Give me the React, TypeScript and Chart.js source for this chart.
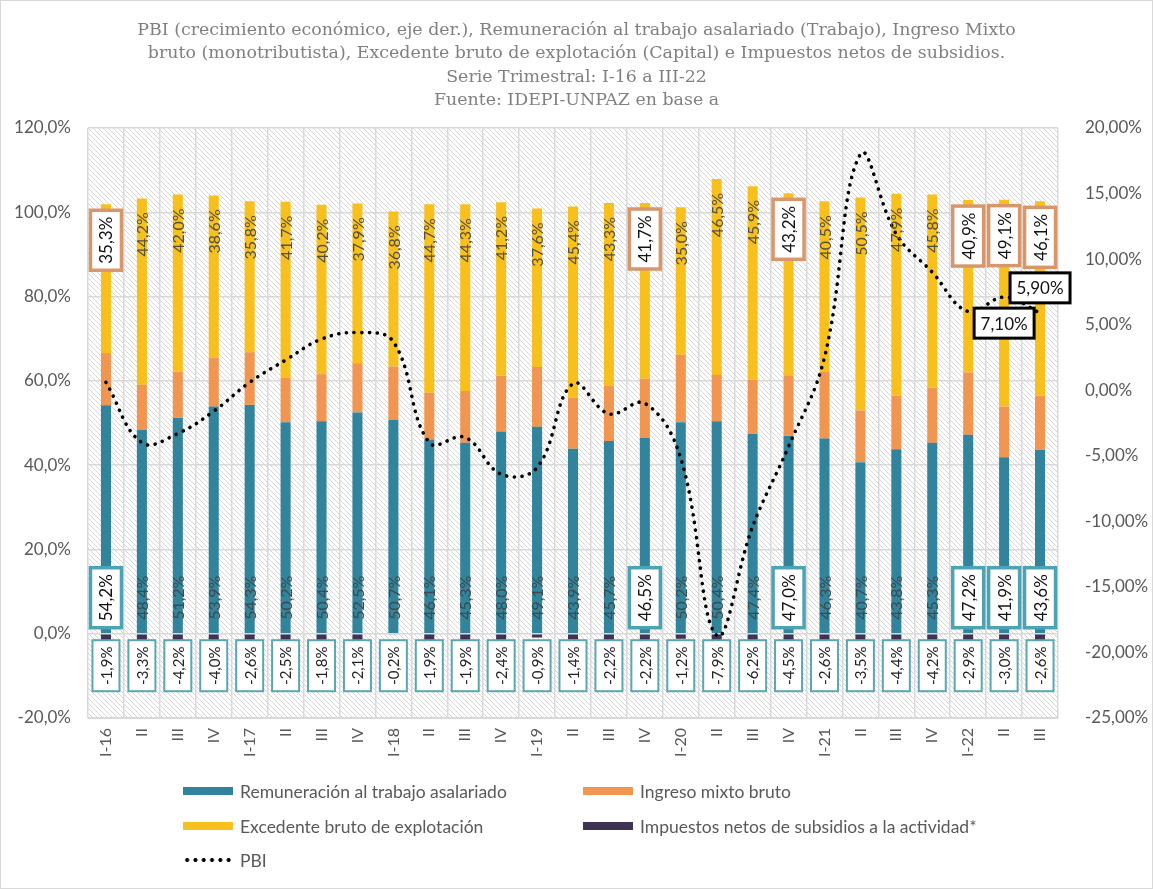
import { Chart, registerables } from "chart.js"
import { useEffect, useRef } from "react"

Chart.register(...registerables)

const titulo = [
    "PBI (crecimiento económico, eje der.), Remuneración al trabajo asalariado (Trabajo), Ingreso Mixto",
    "bruto (monotributista), Excedente bruto de explotación (Capital) e Impuestos netos de subsidios.",
    "Serie Trimestral: I-16 a III-22",
    "Fuente: IDEPI-UNPAZ en base a",
]

const trimestres = [
    "I-16", "II", "III", "IV",
    "I-17", "II", "III", "IV",
    "I-18", "II", "III", "IV",
    "I-19", "II", "III", "IV",
    "I-20", "II", "III", "IV",
    "I-21", "II", "III", "IV",
    "I-22", "II", "III",
]

const remuneracion = [54.2, 48.4, 51.2, 53.9, 54.3, 50.2, 50.4, 52.5, 50.7, 46.1, 45.3, 48.0, 49.1, 43.9, 45.7, 46.5, 50.2, 50.4, 47.4, 47.0, 46.3, 40.7, 43.8, 45.3, 47.2, 41.9, 43.6]
const ingresoMixto = [12.4, 10.7, 11.0, 11.5, 12.5, 10.6, 11.2, 11.7, 12.7, 11.1, 12.3, 13.2, 14.2, 12.1, 13.2, 14.0, 16.0, 11.0, 12.9, 14.3, 15.8, 12.3, 12.7, 13.1, 14.8, 12.0, 12.9]
const excedente = [35.3, 44.2, 42.0, 38.6, 35.8, 41.7, 40.2, 37.9, 36.8, 44.7, 44.3, 41.2, 37.6, 45.4, 43.3, 41.7, 35.0, 46.5, 45.9, 43.2, 40.5, 50.5, 47.9, 45.8, 40.9, 49.1, 46.1]
const impuestos = [-1.9, -3.3, -4.2, -4.0, -2.6, -2.5, -1.8, -2.1, -0.2, -1.9, -1.9, -2.4, -0.9, -1.4, -2.2, -2.2, -1.2, -7.9, -6.2, -4.5, -2.6, -3.5, -4.4, -4.2, -2.9, -3.0, -2.6]
const pbi = [0.6, -4.0, -3.3, -1.6, 0.6, 2.3, 3.9, 4.4, 3.7, -4.0, -3.6, -6.4, -5.9, 0.5, -1.8, -1.0, -5.2, -18.7, -10.4, -4.3, 2.5, 18.0, 11.9, 9.0, 6.0, 7.1, 5.9]

// trimestres con etiqueta en recuadro
const destacados = [0, 15, 19, 24, 25, 26]
const pbiConEtiqueta = [25, 26]

const AZUL = "#31849b"
const NARANJA = "#f09650"
const AMARILLO = "#f8c01c"
const VIOLETA = "#3f3353"

const pct = (v: number, d: number) => v.toFixed(d).replace(".", ",") + "%"

type Caja = { w: number, h: number, stroke: string, lw: number }

function textoVertical(ctx: CanvasRenderingContext2D, texto: string, x: number, y: number, font: string, color: string, caja?: Caja) {
    ctx.save()
    ctx.translate(x, y)
    ctx.rotate(-Math.PI / 2)
    if (caja) {
        ctx.fillStyle = "#fff"
        ctx.fillRect(-caja.w / 2, -caja.h / 2, caja.w, caja.h)
        ctx.strokeStyle = caja.stroke
        ctx.lineWidth = caja.lw
        ctx.strokeRect(-caja.w / 2, -caja.h / 2, caja.w, caja.h)
    }
    ctx.font = font
    ctx.fillStyle = color
    ctx.textAlign = "center"
    ctx.textBaseline = "middle"
    ctx.fillText(texto, 0, 1)
    ctx.restore()
}

const rayado = {
    id: "rayado",
    beforeDraw(chart: any) {
        const { ctx, chartArea: a } = chart
        const tile = document.createElement("canvas")
        tile.width = 5
        tile.height = 5
        const t = tile.getContext("2d")!
        t.strokeStyle = "#d6d6d6"
        t.lineWidth = 1
        t.beginPath()
        t.moveTo(-1, -1); t.lineTo(6, 6)
        t.moveTo(-1, 4); t.lineTo(1, 6)
        t.moveTo(4, -1); t.lineTo(6, 1)
        t.stroke()
        ctx.save()
        ctx.fillStyle = "#fff"
        ctx.fillRect(0, 0, chart.width, chart.height)
        ctx.fillStyle = ctx.createPattern(tile, "repeat")
        ctx.fillRect(a.left, a.top, a.right - a.left, a.bottom - a.top)
        ctx.strokeStyle = "#d9d9d9"
        ctx.lineWidth = 1
        ctx.strokeRect(0.5, 0.5, chart.width - 1, chart.height - 1)
        ctx.restore()
    },
}

const etiquetas = {
    id: "etiquetas",
    afterDatasetsDraw(chart: any) {
        const ctx = chart.ctx
        const cero = chart.scales.y.getPixelForValue(0)
        const rem = chart.getDatasetMeta(0).data
        const exc = chart.getDatasetMeta(2).data
        const pts = chart.getDatasetMeta(4).data
        trimestres.forEach((_, i) => {
            const x = rem[i].x
            const d = destacados.includes(i)
            textoVertical(ctx, pct(remuneracion[i], 1), x, cero - 36,
                d ? "17px Lato" : "16px Lato", d ? "#111" : "#3d4a4f",
                d ? { w: 60, h: 31, stroke: "#4ba3b3", lw: 3.5 } : undefined)
            textoVertical(ctx, pct(excedente[i], 1), x, exc[i].y + 36,
                d ? "17px Lato" : "16px Lato", d ? "#111" : "#55503c",
                d ? { w: 60, h: 31, stroke: "#d8966b", lw: 3.5 } : undefined)
            textoVertical(ctx, pct(impuestos[i], 1), x, cero + 32, "15px Lato", "#222",
                { w: 51, h: 27, stroke: "#5aa7b2", lw: 2 })
        })
        pbiConEtiqueta.forEach((i, k) => {
            const p = pts[i]
            const y = k === 0 ? p.y + 26 : p.y - 25
            ctx.save()
            ctx.fillStyle = "#fff"
            ctx.fillRect(p.x - 30, y - 15, 60, 30)
            ctx.strokeStyle = "#000"
            ctx.lineWidth = 3
            ctx.strokeRect(p.x - 30, y - 15, 60, 30)
            ctx.font = "17px Lato"
            ctx.fillStyle = "#111"
            ctx.textAlign = "center"
            ctx.textBaseline = "middle"
            ctx.fillText(pct(pbi[i], 2), p.x, y + 1)
            ctx.restore()
        })
    },
}

const leyenda = [
    { label: "Remuneración al trabajo asalariado", color: AZUL, x: 183, y: 791 },
    { label: "Ingreso mixto bruto", color: NARANJA, x: 583, y: 791 },
    { label: "Excedente bruto de explotación", color: AMARILLO, x: 183, y: 826 },
    { label: "Impuestos netos de subsidios a la actividad*", color: VIOLETA, x: 583, y: 826 },
    { label: "PBI", color: "", x: 183, y: 860 },
]

const App = () => {
    const canvasRef = useRef<HTMLCanvasElement>(null)

    useEffect(() => {
        if (!canvasRef.current) return
        const barra = { type: "bar" as const, barPercentage: 0.28, categoryPercentage: 1, yAxisID: "y", stack: "s", borderWidth: 0 }
        const chart = new Chart(canvasRef.current, {
            type: "bar",
            data: {
                labels: trimestres,
                datasets: [
                    { ...barra, label: "Remuneración al trabajo asalariado", data: remuneracion, backgroundColor: AZUL, order: 2 },
                    { ...barra, label: "Ingreso mixto bruto", data: ingresoMixto, backgroundColor: NARANJA, order: 2 },
                    { ...barra, label: "Excedente bruto de explotación", data: excedente, backgroundColor: AMARILLO, order: 2 },
                    { ...barra, label: "Impuestos netos de subsidios a la actividad*", data: impuestos, backgroundColor: VIOLETA, order: 2 },
                    {
                        type: "line" as const, label: "PBI", data: pbi, yAxisID: "y2", order: 1,
                        borderColor: "#000", borderWidth: 3.6, borderDash: [0.1, 7.6], borderCapStyle: "round",
                        tension: 0.4, pointRadius: 0, fill: false,
                    } as any,
                ],
            },
            options: {
                animation: false,
                responsive: true,
                maintainAspectRatio: false,
                layout: { padding: { left: 8, top: 128, right: 0, bottom: 0 } },
                plugins: { legend: { display: false }, tooltip: { enabled: false }, title: { display: false } },
                scales: {
                    x: {
                        stacked: true,
                        grid: { color: "#d9d9d9", lineWidth: 1.5, offset: true, drawTicks: false },
                        border: { color: "#d9d9d9" },
                        ticks: { color: "#595959", font: { family: "Lato", size: 16 }, minRotation: 90, maxRotation: 90, padding: 10, autoSkip: false },
                        afterFit: (s: any) => { s.height = 171 },
                    },
                    y: {
                        position: "left",
                        stacked: true,
                        min: -20, max: 120,
                        grid: { color: "#d9d9d9", lineWidth: 1.5, drawTicks: false },
                        border: { display: false },
                        ticks: { stepSize: 20, color: "#595959", font: { family: "Lato", size: 17 }, padding: 17, callback: (v: any) => pct(Number(v), 1) },
                        afterFit: (s: any) => { s.width = 80 },
                    },
                    y2: {
                        position: "right",
                        min: -25, max: 20,
                        grid: { display: false },
                        border: { display: false },
                        ticks: { stepSize: 5, color: "#595959", font: { family: "Lato", size: 17 }, padding: 19, callback: (v: any) => pct(Number(v), 2) },
                        afterFit: (s: any) => { s.width = 95 },
                    },
                },
            },
            plugins: [rayado, etiquetas],
        })
        return () => {
            chart.destroy()
        }
    }, [])

    return (
        <div style={{ position: "absolute", left: 0, top: 0, width: 1153, height: 889, background: "#fff" }}>
            <canvas ref={canvasRef}></canvas>
            <div style={{ position: "absolute", top: 18, left: 0, width: 1153, textAlign: "center", fontFamily: "'DejaVu Serif'", fontSize: 17.4, lineHeight: "23.3px", color: "#808080" }}>
                {titulo.map((l, i) => <div key={i}>{l}</div>)}
            </div>
            {leyenda.map((l, i) => (
                <div key={i} style={{ position: "absolute", left: l.x, top: l.y - 10, height: 20, display: "flex", alignItems: "center", fontFamily: "Lato", fontSize: 17.5, color: "#595959", whiteSpace: "nowrap" }}>
                    {l.color
                        ? <span style={{ display: "inline-block", width: 50, height: 8, background: l.color, marginRight: 7 }}></span>
                        : <span style={{ display: "inline-block", width: 50, height: 8, marginRight: 7, backgroundImage: "radial-gradient(circle, #000 1.7px, transparent 2.2px)", backgroundSize: "8.3px 8px", backgroundPosition: "0 0" }}></span>}
                    {l.label}
                </div>
            ))}
        </div>
    )
}

export default App
